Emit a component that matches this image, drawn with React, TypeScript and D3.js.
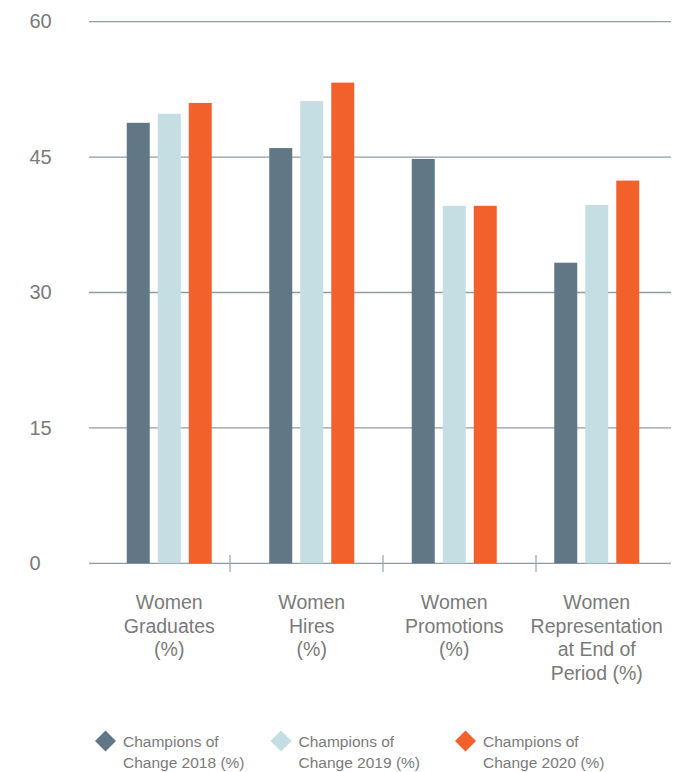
import React from "react";
import * as d3 from "d3";

const categories = ["Graduates", "Hires", "Promotions", "Representation"];
const categoryLabels: string[][] = [
  ["Women", "Graduates", "(%)"],
  ["Women", "Hires", "(%)"],
  ["Women", "Promotions", "(%)"],
  ["Women", "Representation", "at End of", "Period (%)"],
];
const seriesNames = ["2018", "2019", "2020"];
const values2018 = [48.8, 46.0, 44.8, 33.3];
const values2019 = [49.8, 51.2, 39.6, 39.7];
const values2020 = [51.0, 53.25, 39.6, 42.4];
const legendLabels = [
  ["Champions of", "Change 2018 (%)"],
  ["Champions of", "Change 2019 (%)"],
  ["Champions of", "Change 2020 (%)"],
];
const yTicks = [0, 15, 30, 45, 60];
const colors = ["#627786", "#c5dee4", "#f2612b"];

export default function App() {
  const W = 680;
  const H = 772;
  const seriesValues = [values2018, values2019, values2020];

  const y = d3.scaleLinear().domain([0, 60]).range([563.3, 21.7]);
  const x0 = d3.scaleBand<string>().domain(categories).range([98, 668]).padding(0);
  const groupW = 85;
  const x1 = d3
    .scaleBand<string>()
    .domain(seriesNames)
    .range([(x0.bandwidth() - groupW) / 2, (x0.bandwidth() + groupW) / 2])
    .paddingInner(8 / 31)
    .paddingOuter(0);
  const tickScale = d3.scaleBand<string>().domain(categories).range([77, 689]);

  const textColor = "#7a7a7a";
  const font = "'Liberation Sans', Arial, sans-serif";
  const legendXs = [105.5, 281, 465.5];

  return (
    <svg
      width={W}
      height={H}
      style={{ position: "absolute", left: 0, top: 0, background: "#fff" }}
      fontFamily={font}
    >
      {yTicks.map((t) => (
        <g key={t}>
          <line x1={89} x2={671} y1={y(t)} y2={y(t)} stroke="#8e9ca6" strokeWidth={1.3} />
          <text x={29.5} y={y(t) + 1.5} dominantBaseline="middle" fontSize={20} fill={textColor}>
            {t}
          </text>
        </g>
      ))}
      {categories.slice(1).map((c) => (
        <line
          key={c}
          x1={tickScale(c)!}
          x2={tickScale(c)!}
          y1={555}
          y2={572}
          stroke="#9aabb5"
          strokeWidth={1.3}
        />
      ))}
      {categories.map((c, i) => (
        <g key={c} transform={`translate(${x0(c)},0)`}>
          {seriesNames.map((s, j) => (
            <rect
              key={s}
              x={x1(s)}
              width={x1.bandwidth()}
              y={y(seriesValues[j][i])}
              height={y(0) - y(seriesValues[j][i])}
              fill={colors[j]}
            />
          ))}
        </g>
      ))}
      {categories.map((c, i) => (
        <text
          key={c}
          x={x0(c)! + x0.bandwidth() / 2}
          y={609}
          textAnchor="middle"
          fontSize={19.5}
          fill={textColor}
        >
          {categoryLabels[i].map((l, k) => (
            <tspan key={k} x={x0(c)! + x0.bandwidth() / 2} dy={k === 0 ? 0 : 23.5}>
              {l}
            </tspan>
          ))}
        </text>
      ))}
      {seriesNames.map((s, j) => {
        const cx = legendXs[j];
        const cy = 741;
        const r = 10.5;
        return (
          <g key={s}>
            <path
              d={`M${cx},${cy - r}L${cx + r},${cy}L${cx},${cy + r}L${cx - r},${cy}Z`}
              fill={colors[j]}
            />
            <text x={cx + 17.5} y={747.3} fontSize={15.5} fill={textColor}>
              <tspan x={cx + 17.5}>{legendLabels[j][0]}</tspan>
              <tspan x={cx + 17.5} dy={21}>
                {legendLabels[j][1]}
              </tspan>
            </text>
          </g>
        );
      })}
    </svg>
  );
}
